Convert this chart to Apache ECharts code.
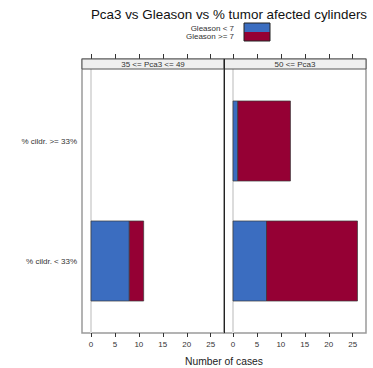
<!DOCTYPE html>
<html><head><meta charset="utf-8">
<script src="https://cdn.jsdelivr.net/npm/echarts@6/dist/echarts.min.js"></script>
<style>html,body{margin:0;padding:0;background:#fff}#c{width:373px;height:368px}</style>
</head><body><div id="c"></div>
<script>
const panels = ['35 <= Pca3 <= 49', '50 <= Pca3'];
const rowLabels = ['% cildr. < 33%', '% cildr. >= 33%'];
const xTicks = [0, 5, 10, 15, 20, 25];
const groups = ['Gleason < 7', 'Gleason >= 7'];
const lowLeft = [8, 0];
const highLeft = [3, 0];
const lowRight = [7, 1];
const highRight = [19, 11];

const COLORS = ['#3B6DC0', '#950034'];
const FONT = 'Liberation Sans, Arial, sans-serif';
const X_MIN = -1.88, X_MAX = 27.78;
const Y_MIN = 0.4, Y_MAX = 2.6 + 10 / 120;

function buildBars(low, high) {
  const out = [];
  for (let i = 0; i < rowLabels.length; i++) {
    if (low[i] > 0) out.push([0, low[i], i + 1, 0]);
    if (high[i] > 0) out.push([low[i], low[i] + high[i], i + 1, 1]);
  }
  return out;
}

function barRender(params, api) {
  const y = api.value(2);
  const p0 = api.coord([api.value(0), y]);
  const p1 = api.coord([api.value(1), y]);
  const h = api.size([0, 0.667])[1];
  return {
    type: 'rect',
    shape: { x: p0[0], y: p0[1] - h / 2, width: p1[0] - p0[0], height: h },
    style: { fill: COLORS[api.value(3)], stroke: '#3a3a3a', lineWidth: 0.7 }
  };
}
function zeroRender(params, api) {
  const a = api.coord([0, Y_MIN]);
  const b = api.coord([0, Y_MAX]);
  return { type: 'line', shape: { x1: a[0], y1: a[1], x2: b[0], y2: b[1] },
    style: { stroke: '#dcdcdc', lineWidth: 2 } };
}

const grids = [
  { left: 82, width: 142, top: 59, height: 274, show: true, borderColor: '#9a9a9a', borderWidth: 1.5 },
  { left: 224, width: 142, top: 59, height: 274, show: true, borderColor: '#9a9a9a', borderWidth: 1.5 }
];
const xAxes = [], yAxes = [];
[0, 1].forEach(g => {
  xAxes.push({
    type: 'value', gridIndex: g, min: X_MIN, max: X_MAX, position: 'bottom',
    splitLine: { show: false }, axisLine: { show: false },
    axisTick: { show: true, customValues: xTicks, length: 4, lineStyle: { color: '#333' } },
    axisLabel: { customValues: xTicks, fontSize: 8, color: '#333', margin: 7, fontFamily: FONT }
  });
  xAxes.push({
    type: 'value', gridIndex: g, min: X_MIN, max: X_MAX, position: 'top',
    splitLine: { show: false }, axisLine: { show: false },
    axisTick: { show: true, customValues: xTicks, length: 5, lineStyle: { color: '#333' } },
    axisLabel: { show: false }
  });
  yAxes.push({
    type: 'value', gridIndex: g, min: Y_MIN, max: Y_MAX,
    splitLine: { show: false }, axisLine: { show: false }, axisTick: { show: false },
    axisLabel: g === 0 ? {
      customValues: [1, 2], fontSize: 8, color: '#333', margin: 5, fontFamily: FONT,
      formatter: v => rowLabels[Math.round(v) - 1]
    } : { show: false }
  });
});

const series = [];
[[lowLeft, highLeft], [lowRight, highRight]].forEach((d, g) => {
  series.push({ type: 'custom', xAxisIndex: g * 2, yAxisIndex: g, data: [[0]],
    renderItem: zeroRender, silent: true, z: 1 });
  series.push({ type: 'custom', xAxisIndex: g * 2, yAxisIndex: g,
    data: buildBars(d[0], d[1]), renderItem: barRender, z: 3,
    encode: { x: [0, 1], y: 2 } });
});

const graphic = [
  { type: 'rect', z: 100, shape: { x: 82, y: 59, width: 142, height: 10 },
    style: { fill: '#efefef', stroke: '#555', lineWidth: 1 } },
  { type: 'rect', z: 100, shape: { x: 224, y: 59, width: 142, height: 10 },
    style: { fill: '#efefef', stroke: '#555', lineWidth: 1 } },
  { type: 'text', z: 101, x: 153, y: 64, style: { text: panels[0], font: '8px ' + FONT, fill: '#333', align: 'center', verticalAlign: 'middle' } },
  { type: 'text', z: 101, x: 295, y: 64, style: { text: panels[1], font: '8px ' + FONT, fill: '#333', align: 'center', verticalAlign: 'middle' } },
  { type: 'line', z: 102, shape: { x1: 224.5, y1: 59, x2: 224.5, y2: 333 }, style: { stroke: '#222', lineWidth: 1 } },
  { type: 'text', z: 101, x: 234, y: 28.5, style: { text: groups[0], font: '8px ' + FONT, fill: '#333', align: 'right', verticalAlign: 'middle' } },
  { type: 'text', z: 101, x: 234, y: 36.5, style: { text: groups[1], font: '8px ' + FONT, fill: '#333', align: 'right', verticalAlign: 'middle' } },
  { type: 'rect', z: 101, shape: { x: 244, y: 23, width: 26, height: 9 }, style: { fill: COLORS[0], stroke: 'none' } },
  { type: 'rect', z: 101, shape: { x: 244, y: 32, width: 26, height: 9 }, style: { fill: COLORS[1], stroke: 'none' } },
  { type: 'rect', z: 102, shape: { x: 244, y: 23, width: 26, height: 18 }, style: { fill: 'none', stroke: '#222', lineWidth: 1 } },
  { type: 'text', z: 101, x: 224, y: 361, style: { text: 'Number of cases', font: '10.3px ' + FONT, fill: '#222', align: 'center', verticalAlign: 'middle' } }
];

const chart = echarts.init(document.getElementById('c'), null, { renderer: 'svg' });
chart.setOption({
  backgroundColor: '#fff',
  animation: false,
  title: { text: 'Pca3 vs Gleason vs % tumor afected cylinders', left: 224, top: 3, textAlign: 'center',
    textStyle: { fontSize: 13.4, fontWeight: 'normal', color: '#111', fontFamily: FONT } },
  grid: grids, xAxis: xAxes, yAxis: yAxes, series: series, graphic: graphic
});
</script></body></html>
